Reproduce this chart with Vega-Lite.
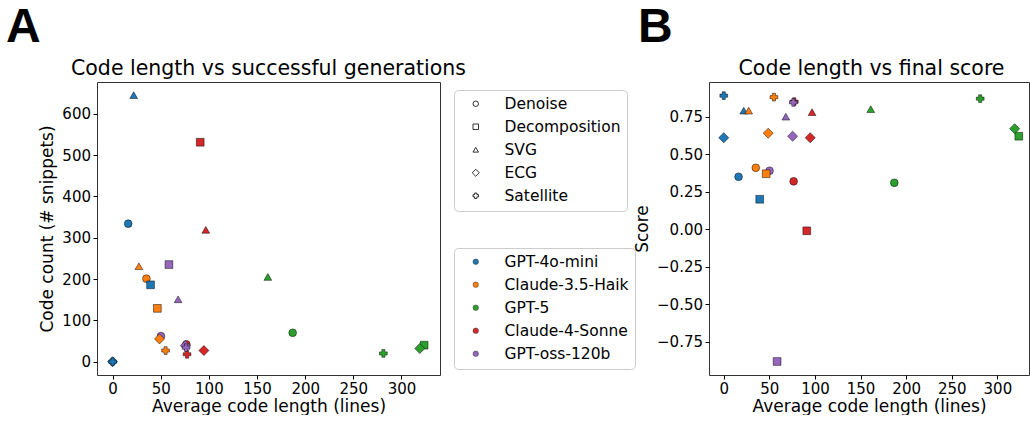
{
  "$schema": "https://vega.github.io/schema/vega-lite/v6.json",
  "padding": {"left": 6, "top": 3, "right": 0, "bottom": 0},
  "background": "white",
  "bounds": "flush",
  "spacing": 612,
  "data": {
    "values": [
      {"model": "GPT-4o-mini", "task": "Denoise", "avg_lines": 16.2, "count": 334, "score": 0.35},
      {"model": "Claude-3.5-Haiku", "task": "Denoise", "avg_lines": 35.1, "count": 201, "score": 0.41},
      {"model": "GPT-5", "task": "Denoise", "avg_lines": 187, "count": 70, "score": 0.31},
      {"model": "Claude-4-Sonnet", "task": "Denoise", "avg_lines": 76.6, "count": 42, "score": 0.32},
      {"model": "GPT-oss-120b", "task": "Denoise", "avg_lines": 50.2, "count": 62, "score": 0.39},
      {"model": "GPT-4o-mini", "task": "Decomposition", "avg_lines": 39.4, "count": 186, "score": 0.2},
      {"model": "Claude-3.5-Haiku", "task": "Decomposition", "avg_lines": 46.5, "count": 129, "score": 0.37},
      {"model": "GPT-5", "task": "Decomposition", "avg_lines": 323.5, "count": 40, "score": 0.62},
      {"model": "Claude-4-Sonnet", "task": "Decomposition", "avg_lines": 91, "count": 531, "score": -0.01},
      {"model": "GPT-oss-120b", "task": "Decomposition", "avg_lines": 58.5, "count": 235, "score": -0.88},
      {"model": "GPT-4o-mini", "task": "SVG", "avg_lines": 21.9, "count": 645, "score": 0.79},
      {"model": "Claude-3.5-Haiku", "task": "SVG", "avg_lines": 27.3, "count": 231, "score": 0.79},
      {"model": "GPT-5", "task": "SVG", "avg_lines": 161.2, "count": 205, "score": 0.8},
      {"model": "Claude-4-Sonnet", "task": "SVG", "avg_lines": 96.8, "count": 319, "score": 0.78},
      {"model": "GPT-oss-120b", "task": "SVG", "avg_lines": 68, "count": 151, "score": 0.75},
      {"model": "GPT-4o-mini", "task": "ECG", "avg_lines": 0, "count": 0, "score": 0.61},
      {"model": "Claude-3.5-Haiku", "task": "ECG", "avg_lines": 48.7, "count": 55, "score": 0.64},
      {"model": "GPT-5", "task": "ECG", "avg_lines": 319, "count": 32, "score": 0.67},
      {"model": "Claude-4-Sonnet", "task": "ECG", "avg_lines": 94.8, "count": 27, "score": 0.61},
      {"model": "GPT-oss-120b", "task": "ECG", "avg_lines": 75.5, "count": 39, "score": 0.62},
      {"model": "GPT-4o-mini", "task": "Satellite", "avg_lines": 0, "count": 0, "score": 0.89},
      {"model": "Claude-3.5-Haiku", "task": "Satellite", "avg_lines": 55, "count": 27, "score": 0.88},
      {"model": "GPT-5", "task": "Satellite", "avg_lines": 281.2, "count": 20, "score": 0.87},
      {"model": "Claude-4-Sonnet", "task": "Satellite", "avg_lines": 77.3, "count": 18, "score": 0.85},
      {"model": "GPT-oss-120b", "task": "Satellite", "avg_lines": 76.3, "count": 34, "score": 0.845}
    ]
  },
  "config": {
    "view": {"stroke": "#333", "strokeWidth": 1},
    "font": "DejaVu Sans",
    "axis": {
      "grid": false, "domain": false,
      "labelFont": "DejaVu Sans", "labelFontSize": 15, "labelColor": "black",
      "titleFont": "DejaVu Sans", "titleFontSize": 17, "titleFontWeight": "normal", "titleColor": "black",
      "tickColor": "black", "tickSize": 4, "tickWidth": 1,
      "labelFlush": false, "labelOverlap": false
    },
    "axisX": {"labelPadding": 2, "titlePadding": 2},
    "axisY": {"labelPadding": 2.5, "titlePadding": 5},
    "legend": {
      "labelFont": "DejaVu Sans", "labelFontSize": 15.5, "labelColor": "black",
      "padding": 6, "strokeColor": "#cccccc", "fillColor": "white", "cornerRadius": 4,
      "rowPadding": 6, "symbolOffset": 8, "labelOffset": 21, "symbolSize": 30
    }
  },
  "resolve": {
    "scale": {"x": "independent", "y": "independent"},
    "legend": {"color": "independent", "shape": "independent"}
  },
  "hconcat": [
    {
      "title": {"text": "A", "anchor": "start", "frame": "group", "dx": -91, "dy": 45.5, "font": "Liberation Sans", "fontSize": 48, "fontWeight": "bold", "color": "black", "baseline": "alphabetic", "offset": 14},
      "bounds": "flush",
      "resolve": {"legend": {"color": "independent", "shape": "independent"}},
      "vconcat": [
        {
          "width": 343,
          "height": 293,
          "title": {"text": "Code length vs successful generations", "font": "DejaVu Sans", "fontSize": 20.5, "fontWeight": "normal", "color": "black", "baseline": "alphabetic", "offset": 7.5, "dy": 20.5},
          "mark": {"type": "point", "filled": true, "opacity": 1, "size": 60, "stroke": "black", "strokeWidth": 0.6, "strokeOpacity": 0.8},
          "encoding": {
            "x": {"field": "avg_lines", "type": "quantitative", "scale": {"domain": [-16.2, 340], "nice": false, "zero": false}, "axis": {"values": [0, 50, 100, 150, 200, 250, 300], "title": "Average code length (lines)"}},
            "y": {"field": "count", "type": "quantitative", "scale": {"domain": [-32.2, 676.8], "nice": false, "zero": false}, "axis": {"values": [0, 100, 200, 300, 400, 500, 600], "title": "Code count (# snippets)"}},
            "shape": {
              "field": "task", "type": "nominal",
              "scale": {"domain": ["Denoise", "Decomposition", "SVG", "ECG", "Satellite"], "range": ["circle", "square", "triangle-up", "M0,-1.3L1.3,0L0,1.3L-1.3,0Z", "cross"]},
              "legend": {"title": null, "orient": "none", "legendX": 357, "legendY": 8, "symbolFillColor": "white", "symbolStrokeColor": "black", "symbolStrokeWidth": 0.8}
            },
            "color": {
              "field": "model", "type": "nominal",
              "scale": {"domain": ["GPT-4o-mini", "Claude-3.5-Haiku", "GPT-5", "Claude-4-Sonnet", "GPT-oss-120b"], "range": ["#1f77b4", "#ff7f0e", "#2ca02c", "#d62728", "#9467bd"]},
              "legend": {"title": null, "orient": "none", "legendX": 357, "legendY": 166, "symbolType": "circle", "symbolStrokeColor": "#333", "symbolStrokeWidth": 0.5,
                "labelExpr": "datum.label == 'Claude-3.5-Haiku' ? 'Claude-3.5-Haik' : (datum.label == 'Claude-4-Sonnet' ? 'Claude-4-Sonne' : datum.label)"}
            }
          }
        }
      ]
    },
    {
      "title": {"text": "B", "anchor": "start", "frame": "group", "dx": -71, "dy": 45.5, "font": "Liberation Sans", "fontSize": 48, "fontWeight": "bold", "color": "black", "baseline": "alphabetic", "offset": 14},
      "bounds": "flush",
      "vconcat": [
        {
          "width": 320,
          "height": 293,
          "title": {"text": "Code length vs final score", "font": "DejaVu Sans", "fontSize": 20.5, "fontWeight": "normal", "color": "black", "baseline": "alphabetic", "offset": 7.5, "dy": 20.5, "dx": 2.5},
          "mark": {"type": "point", "filled": true, "opacity": 1, "size": 60, "stroke": "black", "strokeWidth": 0.6, "strokeOpacity": 0.8},
          "encoding": {
            "x": {"field": "avg_lines", "type": "quantitative", "scale": {"domain": [-16.2, 334.7], "nice": false, "zero": false}, "axis": {"values": [0, 50, 100, 150, 200, 250, 300], "title": "Average code length (lines)"}},
            "y": {"field": "score", "type": "quantitative", "scale": {"domain": [-0.97, 0.981], "nice": false, "zero": false}, "axis": {"values": [-0.75, -0.5, -0.25, 0, 0.25, 0.5, 0.75], "format": ".2f", "title": "Score"}},
            "shape": {
              "field": "task", "type": "nominal",
              "scale": {"domain": ["Denoise", "Decomposition", "SVG", "ECG", "Satellite"], "range": ["circle", "square", "triangle-up", "M0,-1.3L1.3,0L0,1.3L-1.3,0Z", "cross"]},
              "legend": null
            },
            "color": {
              "field": "model", "type": "nominal",
              "scale": {"domain": ["GPT-4o-mini", "Claude-3.5-Haiku", "GPT-5", "Claude-4-Sonnet", "GPT-oss-120b"], "range": ["#1f77b4", "#ff7f0e", "#2ca02c", "#d62728", "#9467bd"]},
              "legend": null
            }
          }
        }
      ]
    }
  ]
}
